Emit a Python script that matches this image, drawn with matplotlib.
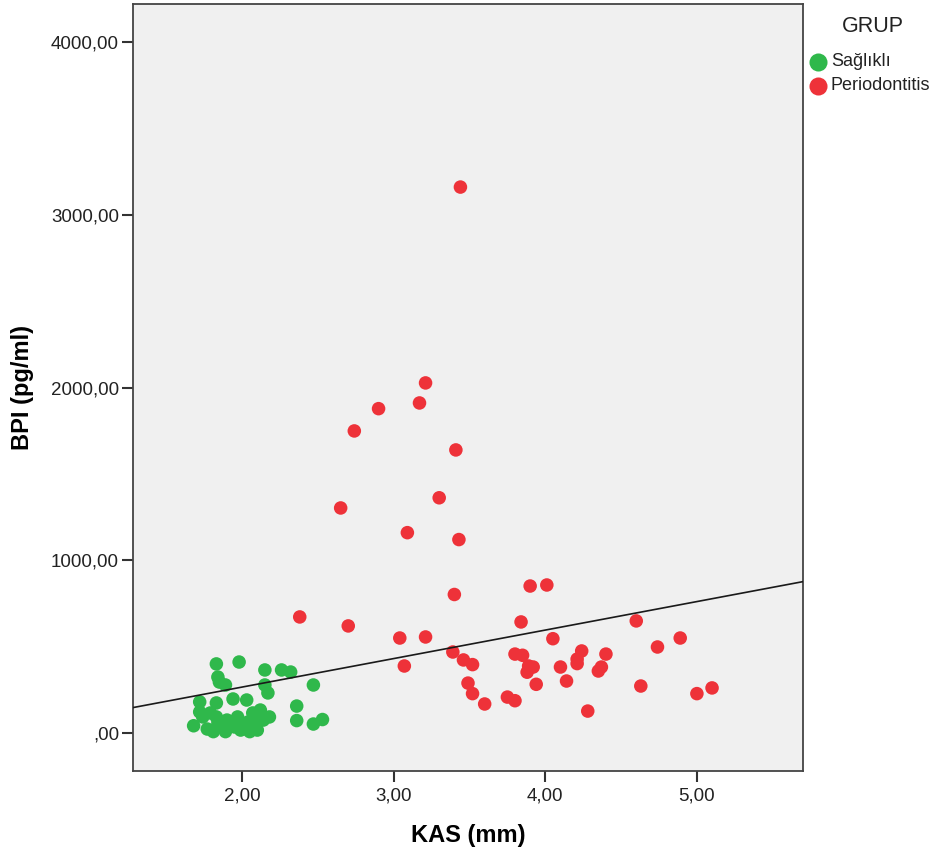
import matplotlib
matplotlib.use('Agg')
import matplotlib.pyplot as plt
from matplotlib.lines import Line2D
import numpy as np

plt.rcParams['font.family'] = ['Liberation Sans', 'DejaVu Sans']

# KAS (mm) / BPI (pg/ml) - saglikli grup
kas_saglikli = [1.83, 1.98, 2.15, 2.26, 2.32, 1.84, 1.85, 1.89, 2.15, 2.17, 2.47,
                1.72, 1.83, 1.94, 2.03, 2.36, 2.36, 2.47, 2.53, 1.68, 1.74, 1.79,
                1.77, 1.84, 1.83, 1.90, 1.89, 1.97, 1.95, 2.02, 2.04, 2.07, 2.12,
                2.14, 2.18, 2.10, 2.05, 1.81, 1.99, 1.72, 1.86, 1.93, 2.00, 2.09, 2.11]
bpi_saglikli = [400, 411, 365, 365, 353, 324, 295, 278, 278, 232, 278,
                180, 174, 197, 191, 156, 72, 52, 78, 42, 93, 116,
                23, 58, 93, 75, 8, 93, 35, 29, 64, 116, 133,
                75, 93, 17, 8, 8, 17, 122, 40, 55, 45, 60, 100]

# periodontitis grubu
kas_perio = [3.44, 3.21, 3.17, 2.90, 2.74, 3.41, 3.30, 2.65, 3.09, 3.43,
             3.40, 3.90, 4.01, 2.38, 2.70, 3.04, 3.21, 3.84, 4.60, 4.05,
             4.89, 4.74, 3.39, 3.46, 3.52, 3.07, 3.80, 3.85, 3.89, 3.88,
             3.92, 4.24, 4.21, 4.21, 4.40, 4.10, 4.37, 4.35, 4.14, 3.94,
             3.49, 3.52, 3.60, 3.75, 3.80, 4.28, 4.63, 5.00, 5.10]
bpi_perio = [3161, 2027, 1911, 1878, 1749, 1639, 1362, 1303, 1160, 1120,
             802, 851, 857, 672, 620, 550, 556, 643, 649, 546,
             550, 498, 469, 423, 396, 388, 457, 450, 388, 352,
             382, 475, 428, 402, 457, 382, 382, 359, 301, 282,
             289, 228, 168, 208, 187, 127, 272, 228, 261]

# toplam fit cizgisi
fit_intercept = -64
fit_slope = 165

x_ticks = [2, 3, 4, 5]
x_ticklabels = ['2,00', '3,00', '4,00', '5,00']
y_ticks = [0, 1000, 2000, 3000, 4000]
y_ticklabels = [',00', '1000,00', '2000,00', '3000,00', '4000,00']

gruplar = ['Sağlıklı', 'Periodontitis']
green = '#2fb84b'
red = '#ee3239'
renkler = [green, red]

fig = plt.figure(figsize=(9.41, 8.61), dpi=100)
ax = fig.add_axes([133 / 941, 1 - 771 / 861, 670 / 941, 767 / 861])
ax.set_facecolor('#f0f0f0')

ax.scatter(kas_saglikli, bpi_saglikli, s=95, color=green, edgecolors='none', zorder=3)
ax.scatter(kas_perio, bpi_perio, s=95, color=red, edgecolors='none', zorder=3)

ax.set_xlim(1.28, 5.70)
ax.set_ylim(-220, 4221)

xx = np.array(ax.get_xlim())
ax.plot(xx, fit_intercept + fit_slope * xx, color='#1a1a1a', lw=1.2, zorder=4)

ax.set_xticks(x_ticks)
ax.set_xticklabels(x_ticklabels)
ax.set_yticks(y_ticks)
ax.set_yticklabels(y_ticklabels)
ax.tick_params(axis='both', direction='out', length=8, width=1.5, color='#333333',
               labelsize=13.5, labelcolor='#222222')
ax.tick_params(axis='x', pad=4)
ax.tick_params(axis='y', pad=2)

for sp in ax.spines.values():
    sp.set_color('#444444')
    sp.set_linewidth(1.3)

ax.set_xlabel('KAS (mm)', fontsize=17, fontweight='bold', labelpad=14)
ax.set_ylabel('BPI (pg/ml)', fontsize=17, fontweight='bold', labelpad=12)

# lejant (elle yerlestirildi)
fig.text(873 / 941, 1 - 27 / 861, 'GRUP', fontsize=15.5, color='#222222',
         ha='center', va='center')
for i, (ad, renk) in enumerate(zip(gruplar, renkler)):
    yy = 1 - (62 + 24 * i) / 861
    fig.add_artist(Line2D([818 / 941], [yy], transform=fig.transFigure, marker='o',
                          linestyle='', markersize=13, color=renk, markeredgewidth=0))
    fig.text(831 / 941, yy, ad, fontsize=13, color='#222222', ha='left', va='center')

fig.savefig('out.png', dpi=100)
